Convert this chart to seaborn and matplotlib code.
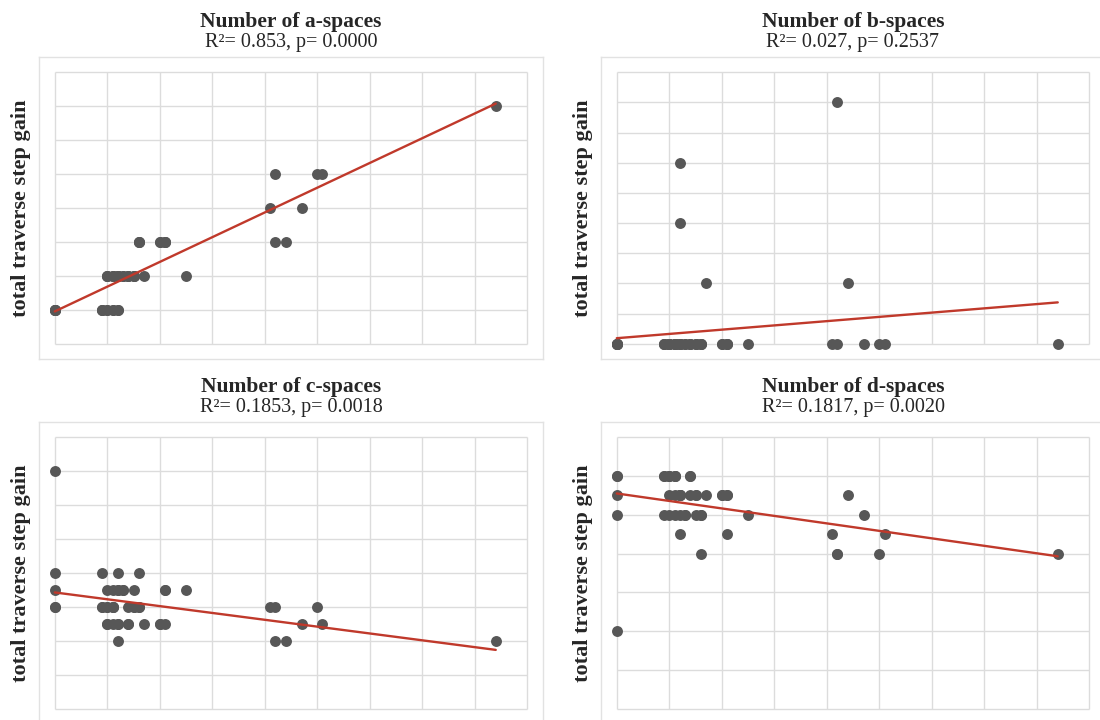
import numpy as np
import matplotlib
matplotlib.use("Agg")
import matplotlib.pyplot as plt
import seaborn as sns

# values
titles = ["Number of a-spaces", "Number of b-spaces", "Number of c-spaces", "Number of d-spaces"]
stats = ["R²= 0.853, p= 0.0000", "R²= 0.027, p= 0.2537", "R²= 0.1853, p= 0.0018", "R²= 0.1817, p= 0.0020"]

# visible points, then points hidden under them (estimated from the fitted lines)
xa = [0, 0.9, 1.0, 1.1, 1.2,
      1.0, 1.1, 1.2, 1.3, 1.4, 1.5, 1.7, 2.5,
      1.6, 2.0, 2.1, 4.2, 4.4,
      4.1, 4.7,
      4.2, 5.0, 5.1,
      8.4,
      0, 0, 0, 0, 0.9, 0.9, 1.0, 1.0, 1.0, 1.1, 1.1, 1.1, 1.2, 1.2, 1.2, 1.2,
      1.3, 1.4, 1.4, 1.5, 1.5, 1.6, 1.6, 2.0, 2.1, 2.1]
ya = [1, 1, 1, 1, 1,
      2, 2, 2, 2, 2, 2, 2, 2,
      3, 3, 3, 3, 3,
      4, 4,
      5, 5, 5,
      7,
      1, 1, 1, 1, 1, 1, 1, 2, 2, 1, 2, 2, 1, 2, 2, 2,
      2, 2, 2, 2, 2, 3, 3, 3, 3, 3]

xb = [0, 0.9, 1.0, 1.1, 1.2, 1.3, 1.4, 1.5, 1.6, 2.0, 2.1, 2.5, 4.1, 4.2, 4.7, 5.0, 5.1, 8.4,
      1.2, 1.2, 1.7, 4.2, 4.4,
      0, 0, 0, 0.9, 1.0, 1.0, 1.1, 1.1, 1.2, 1.4, 1.5, 1.6, 2.1,
      0, 0.9, 1.0, 1.1, 1.2, 1.2, 1.3, 1.4, 1.5, 1.6, 2.0, 2.1, 1.0, 1.1]
yb = [0, 0, 0, 0, 0, 0, 0, 0, 0, 0, 0, 0, 0, 0, 0, 0, 0, 0,
      6, 4, 2, 8, 2,
      0, 0, 0, 0, 0, 0, 0, 0, 0, 0, 0, 0, 0,
      0, 0, 0, 0, 0, 0, 0, 0, 0, 0, 0, 0, 0, 0]

xc = [0,
      0, 0.9, 1.2, 1.6,
      0, 1.0, 1.1, 1.2, 1.3, 1.5, 2.1, 2.5,
      0, 0.9, 1.0, 1.1, 1.4, 1.5, 1.6, 4.1, 4.2, 5.0,
      1.0, 1.1, 1.2, 1.4, 1.7, 2.0, 2.1, 4.7, 5.1,
      1.2, 4.2, 4.4, 8.4,
      0, 0.9, 1.0, 1.1, 1.2, 1.2, 1.3, 1.4, 1.5, 1.6, 2.0, 2.1, 1.0, 1.1]
yc = [7,
      4, 4, 4, 4,
      3.5, 3.5, 3.5, 3.5, 3.5, 3.5, 3.5, 3.5,
      3, 3, 3, 3, 3, 3, 3, 3, 3, 3,
      2.5, 2.5, 2.5, 2.5, 2.5, 2.5, 2.5, 2.5, 2.5,
      2, 2, 2, 2,
      3, 3, 3, 3, 2.5, 3.5, 3.5, 2.5, 3, 3, 2.5, 3.5, 2.5, 3]

xd = [0, 0.9, 1.0, 1.1, 1.4,
      0, 1.0, 1.1, 1.2, 1.4, 1.5, 1.7, 2.0, 2.1, 4.4,
      0, 0.9, 1.0, 1.1, 1.2, 1.3, 1.5, 1.6, 2.5, 4.7,
      1.2, 2.1, 4.1, 5.1,
      1.6, 4.2, 5.0, 8.4,
      0,
      1.2, 4.2,
      0, 0.9, 1.0, 1.1, 1.2, 1.2, 1.3, 1.4, 1.5, 1.6, 2.0, 2.1, 1.0, 1.1]
yd = [6, 6, 6, 6, 6,
      5.5, 5.5, 5.5, 5.5, 5.5, 5.5, 5.5, 5.5, 5.5, 5.5,
      5, 5, 5, 5, 5, 5, 5, 5, 5, 5,
      4.5, 4.5, 4.5, 4.5,
      4, 4, 4, 4,
      2,
      5.5, 4,
      6, 6, 6, 6, 5.5, 5.5, 5, 6, 5.5, 5, 5.5, 5.5, 6, 6]

xs = [xa, xb, xc, xd]
ys = [ya, yb, yc, yd]
ytop = [8, 9, 8, 7]
xticks = np.arange(0, 10)

sns.set_theme(style="white")
plt.rcParams['font.family'] = ['Liberation Serif', 'DejaVu Serif']

fig = plt.figure(figsize=(11, 7.2), dpi=100)
W, H = 1100, 720
boxes = [(39, 57), (601, 57), (39, 422), (601, 422)]  # left, top in pixels
aw, ah = 504, 302

for i in range(4):
    left, top = boxes[i]
    ax = fig.add_axes([left / W, (H - top - ah) / H, aw / W, ah / H])
    yt = np.arange(0, ytop[i] + 1)
    pad = ytop[i] * 15.3 / (ah - 30.6)

    # grid only spans the tick range, like the reference
    ax.vlines(xticks, yt[0], yt[-1], color="#dcdcdc", lw=1.0, zorder=0)
    ax.hlines(yt, xticks[0], xticks[-1], color="#dcdcdc", lw=1.0, zorder=0)

    sns.regplot(x=xs[i], y=ys[i], ax=ax, ci=None,
                scatter_kws=dict(s=62, color="#575757", linewidths=0, alpha=1, zorder=3),
                line_kws=dict(color="#c0392b", lw=1.7, zorder=4))

    ax.set_xlim(-0.3, 9.3)
    ax.set_ylim(-pad, ytop[i] + pad)
    ax.set_xticks([])
    ax.set_yticks([])
    ax.set_xlabel("")
    ax.set_ylabel("total traverse step gain", fontsize=16, fontweight="bold")
    ax.yaxis.set_label_coords(-0.016, 0.5)
    for s in ax.spines.values():
        s.set_color("#e2e2e2")
        s.set_linewidth(1.0)

    ax.annotate(titles[i], xy=(0.5, 1), xycoords="axes fraction", xytext=(0, 21.6),
                textcoords="offset points", ha="center", va="baseline",
                fontsize=15.5, fontweight="bold")
    ax.annotate(stats[i], xy=(0.5, 1), xycoords="axes fraction", xytext=(0, 7.2),
                textcoords="offset points", ha="center", va="baseline", fontsize=14.5)

fig.savefig("out.png", dpi=100)
